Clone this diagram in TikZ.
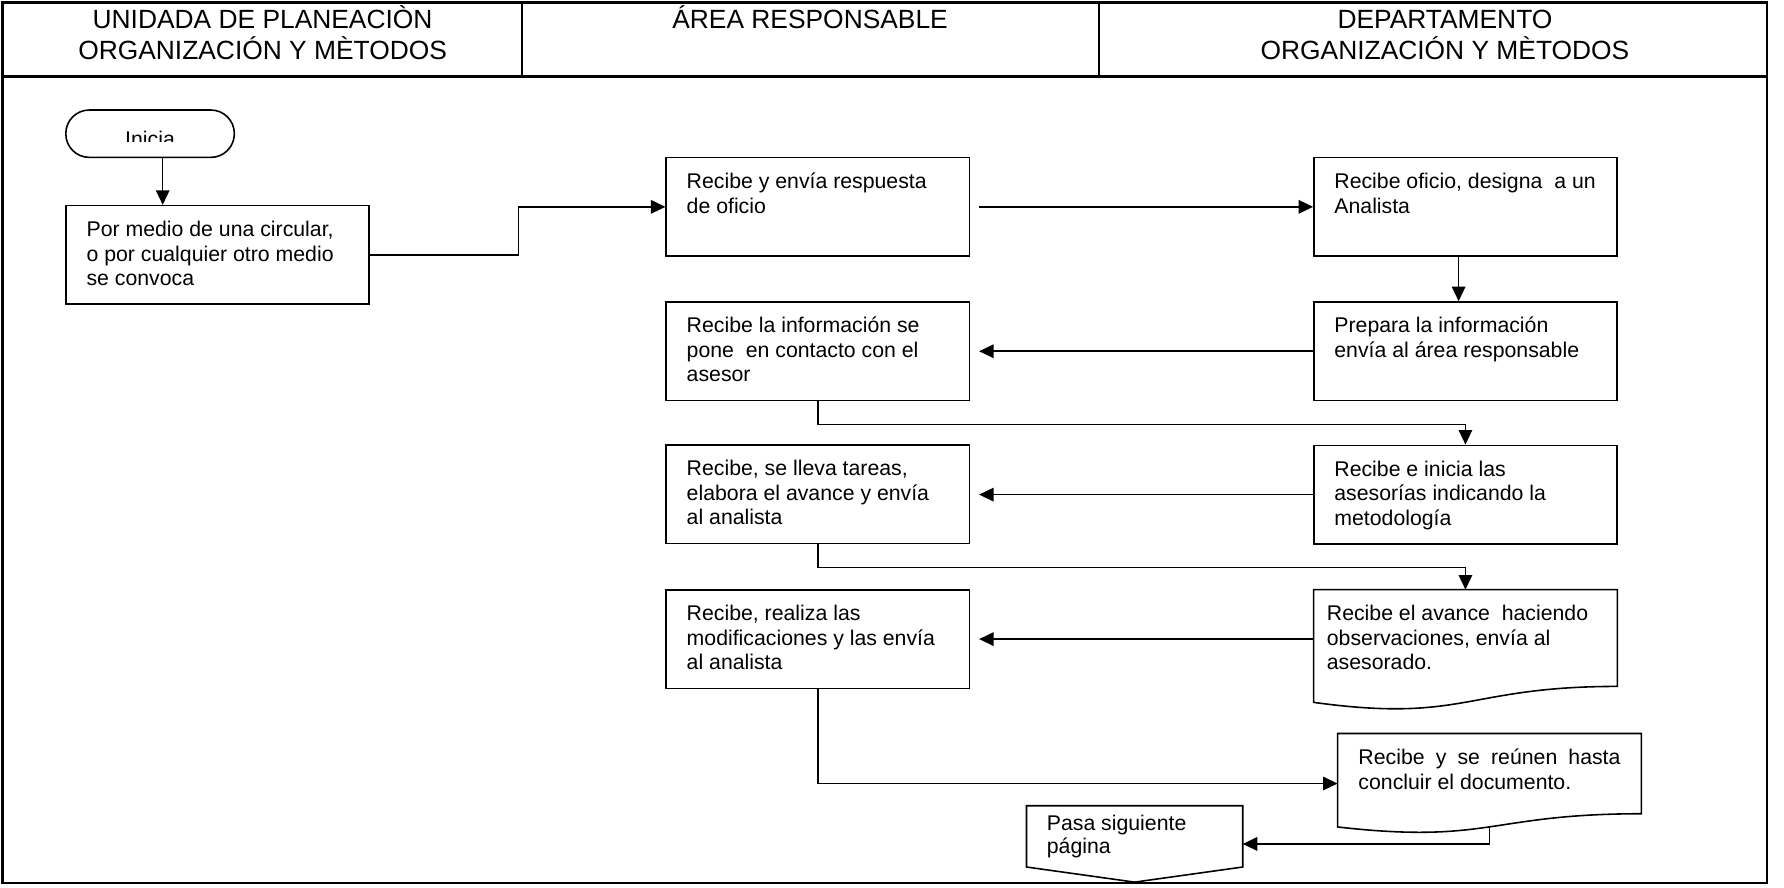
\documentclass[tikz,border=0pt]{standalone}
\usepackage{fontspec}
\setmainfont{Liberation Sans}
\usetikzlibrary{arrows.meta,calc}

\newcommand{\ctexto}[3][5.24cm]{\parbox[c][#2][t]{#1}{\rule{0pt}{0.45cm}#3}}
\newcommand{\docforma}[1]{%
  \draw[line width=0.9pt] (#1.north west) -- (#1.north east)
    -- ($(#1.north east)!0.802!(#1.south east)$)
    .. controls ($(#1.north)!0.802!(#1.south)$) and ($(#1.north)!1.1075!(#1.south)$)
    .. ($(#1.north west)!0.934!(#1.south west)$) -- cycle;}

\begin{document}
\begin{tikzpicture}[x=0.022756cm, y=-0.022756cm,
    >={Triangle[length=0.29cm,width=0.27cm]},
    box_node/.style={draw, line width=0.9pt, inner xsep=0.41cm, inner ysep=0.17cm, font=\fontsize{12.1}{13.9}\selectfont},
    doc_node/.style={inner xsep=0.41cm, inner ysep=0.17cm, font=\fontsize{12.1}{13.9}\selectfont},
    term_node/.style={draw, line width=0.9pt, rounded corners=0.47cm, minimum width=3.37cm, minimum height=0.947cm},
    head_node/.style={align=center, anchor=base, font=\fontsize{15}{17.7}\selectfont},
    flecha/.style={->, line width=0.85pt}]
	    \useasboundingbox (0,0) rectangle (1568,780);
	    % marco y encabezado
	    \draw[line width=1.5pt] (2,2) rectangle (1553,776);
	    \draw[line width=1.5pt] (2,67.4) -- (1553,67.4);
	    \draw[line width=1pt] (459,2) -- (459,67.4);
	    \draw[line width=1pt] (966,2) -- (966,67.4);
	    \node[head_node] (12) at (230.8,52.2) {UNIDADA DE PLANEACIÒN\\ORGANIZACIÓN Y MÈTODOS};
	    \node[head_node] (13) at (712,24.9) {ÁREA RESPONSABLE};
	    \node[head_node] (14) at (1270,52.2) {DEPARTAMENTO\\ORGANIZACIÓN Y MÈTODOS};

	    \node[term_node] (0) at (131.9,117.5) {};
	    \begin{scope}
	        \clip (50,90) rectangle (210,124.5);
	        \node[anchor=base, font=\fontsize{12.1}{13.9}\selectfont] (15) at (131.9,128.9) {Inicia};
	    \end{scope}

	    \node[box_node] (1) at (191.25,224) {\ctexto{1.63cm}{Por medio de una circular,\\o por cualquier otro medio\\se convoca}};
	    \node[box_node] (2) at (718.75,181.8) {\ctexto{1.63cm}{Recibe y envía respuesta\\de oficio}};
	    \node[box_node] (3) at (1288,181.8) {\ctexto{1.63cm}{Recibe oficio, designa~ a un\\Analista}};
	    \node[box_node] (4) at (1288,308.7) {\ctexto{1.63cm}{Prepara la información\\envía al área responsable}};
	    \node[box_node] (5) at (718.75,308.7) {\ctexto{1.63cm}{Recibe la información se\\pone~ en contacto con el\\asesor}};
	    \node[box_node] (6) at (1288,434.7) {\ctexto{1.63cm}{Recibe e inicia las\\asesorías indicando la\\metodología}};
	    \node[box_node] (7) at (718.75,434.3) {\ctexto{1.63cm}{Recibe, se lleva tareas,\\elabora el avance y envía\\al analista}};
	    \node[doc_node, inner xsep=0.26cm] (8) at (1288,571.25) {\ctexto[5.54cm]{2.06cm}{Recibe el avance~ haciendo\\observaciones, envía al\\asesorado.}};
	    \docforma{8}
	    \node[box_node] (9) at (718.75,561.7) {\ctexto{1.63cm}{Recibe, realiza las\\modificaciones y las envía\\al analista}};
	    \node[doc_node] (10) at (1309.15,688.65) {\ctexto{1.647cm}{Recibe y se reúnen hasta\linebreak concluir el documento.}};
	    \docforma{10}
	    \node[doc_node, inner xsep=0.4cm, inner ysep=0.1cm] (11) at (997.25,741.75) {\parbox[c][1.313cm][t]{3.51cm}{\fontsize{12.1}{12.9}\selectfont\rule{0pt}{0.39cm}Pasa siguiente\\página}};
	    \draw[line width=0.9pt] (11.north west) -- (11.north east) -- ($(11.north east)!0.802!(11.south east)$) -- (11.south) -- ($(11.north west)!0.802!(11.south west)$) -- cycle;

	    \draw[flecha] (0.south -| 143,0) -- (1.north -| 143,0);
	    \draw[flecha] (1.east) -- ++(130.4,0) |- (2.west);
	    \draw[flecha, shorten <=0.18cm] (2.east) -- (3.west);
	    \draw[flecha] (3.south -| 1282,0) -- (4.north -| 1282,0);
	    \draw[flecha, shorten >=0.18cm] (4.west) -- (5.east);
	    \draw[flecha] (5.south) -- ++(0,20.4) -| (6.north);
	    \draw[flecha, shorten >=0.18cm] (6.west) -- (6.west -| 7.east);
	    \draw[flecha] (7.south) -- ++(0,20.6) -| (8.north);
	    \draw[flecha, shorten >=0.18cm] (9.east -| 8.west) -- (9.east);
	    \draw[flecha] (9.south) |- (10.west);
	    \draw[flecha] ($(10.north)!0.933!(10.south)$) |- (11.east);
        \end{tikzpicture}
\end{document}
